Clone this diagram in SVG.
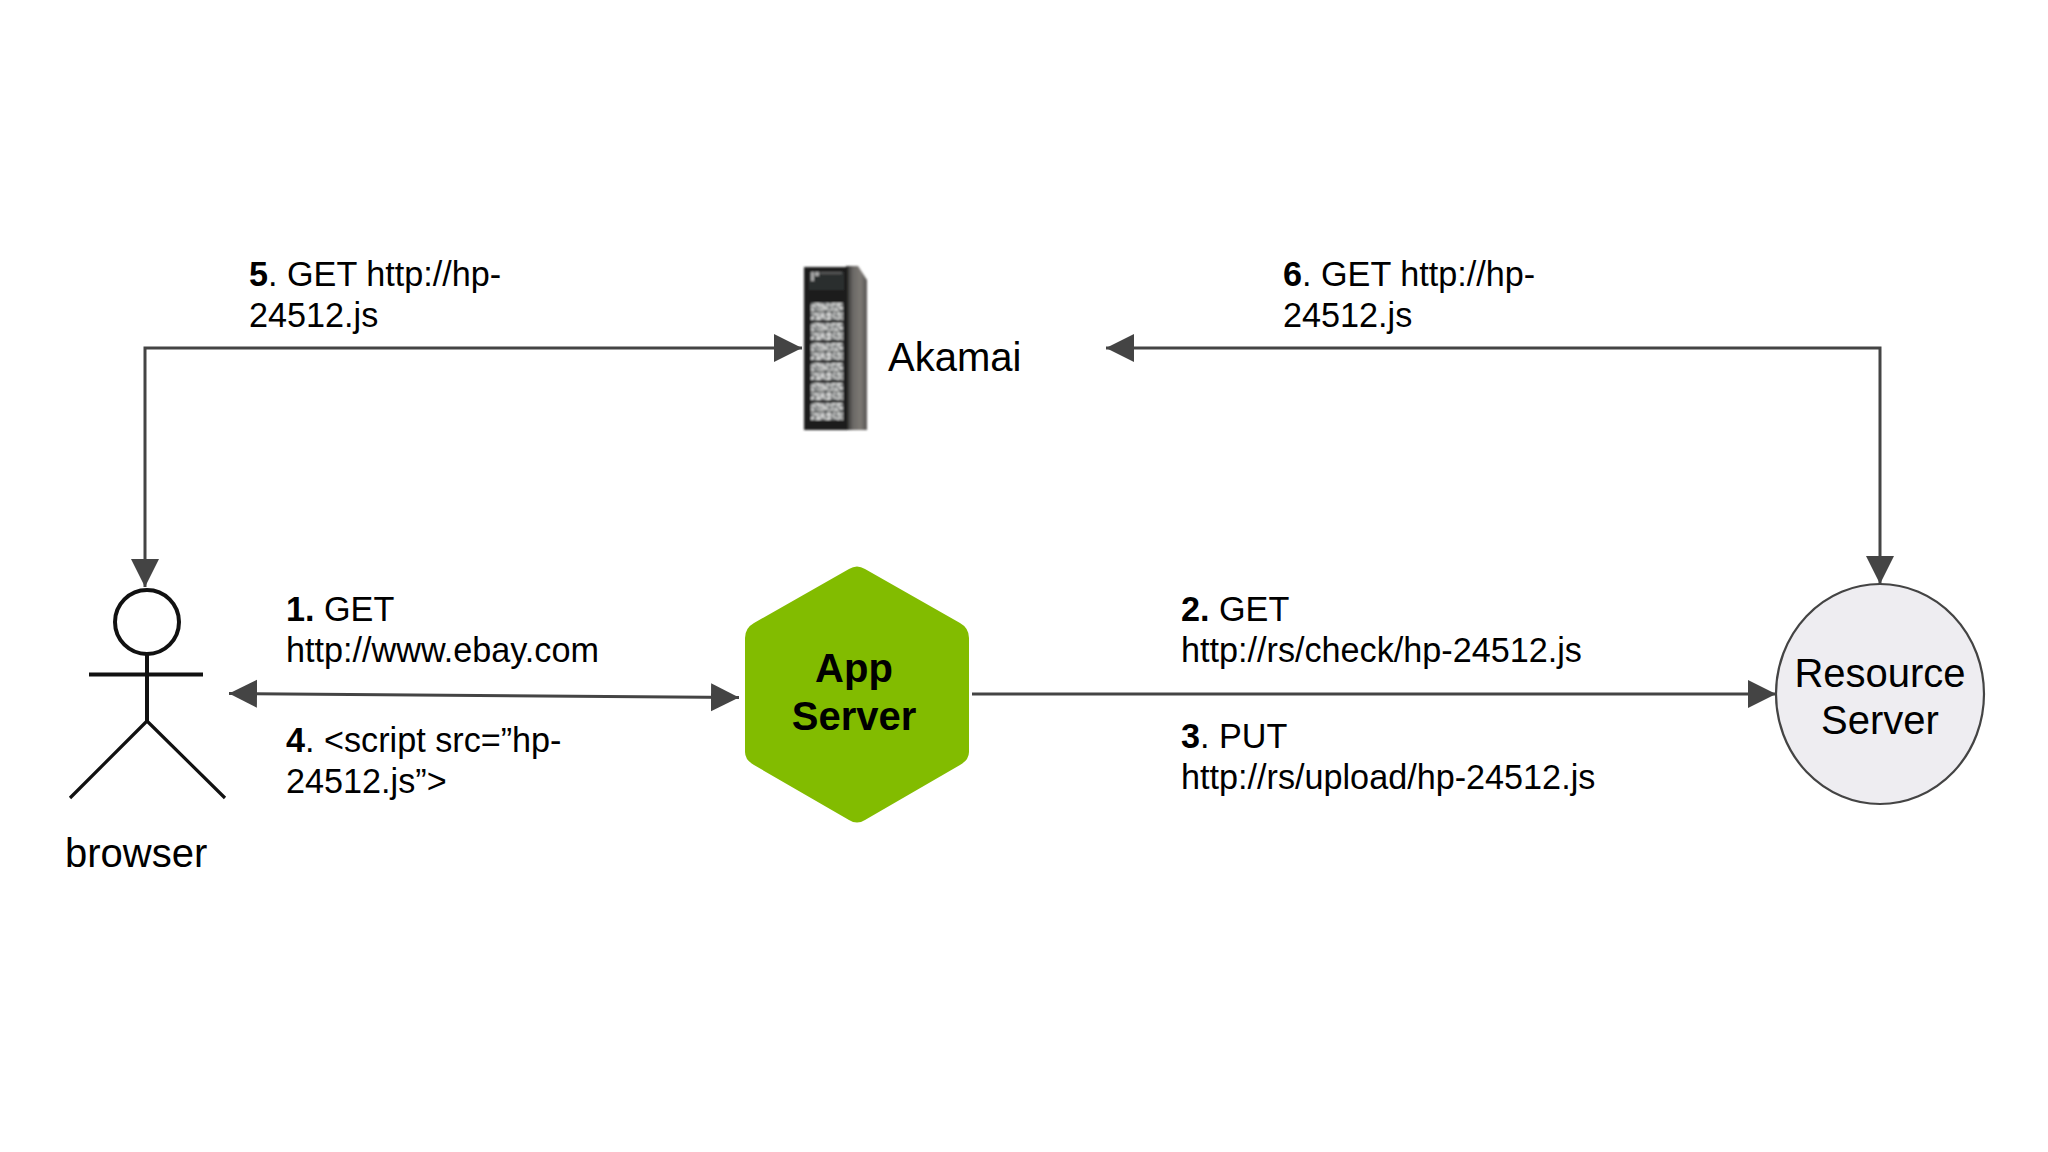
<svg xmlns="http://www.w3.org/2000/svg" width="2048" height="1152" viewBox="0 0 2048 1152">
<style>
text{font-family:"Liberation Sans",Arial,sans-serif;fill:#000}
.l{font-size:34.2px}
.n{font-size:40px}
.b{font-weight:bold}
.c{text-anchor:middle}
.line{fill:none;stroke:#444;stroke-width:3}
.fig{fill:none;stroke:#111;stroke-width:4}
.leg{fill:none;stroke:#111;stroke-width:3.2}
.slot{fill:#77797a}
.dots{fill:none;stroke:#444545;stroke-width:1.2}
</style>
<defs>
<marker id="ah" markerUnits="userSpaceOnUse" markerWidth="30" markerHeight="30" refX="28" refY="14" orient="auto-start-reverse"><path d="M0 0L28 14L0 28Z" fill="#444"/></marker>
<linearGradient id="side" x1="0" x2="1" y1="0" y2="0"><stop offset="0" stop-color="#2a2a2a"/><stop offset=".35" stop-color="#6d6a67"/><stop offset=".7" stop-color="#7c7874"/><stop offset="1" stop-color="#555351"/></linearGradient>
<filter id="soft" x="-5%" y="-5%" width="110%" height="110%"><feGaussianBlur stdDeviation="1"/></filter>
<filter id="noise" x="0" y="0" width="100%" height="100%"><feTurbulence type="fractalNoise" baseFrequency=".3 .45" numOctaves="2" seed="7"/><feColorMatrix type="matrix" values="0 0 0 0 .72  0 0 0 0 .73  0 0 0 0 .72  3 3 0 0 -2.6"/><feComposite in2="SourceGraphic" operator="over"/></filter>
<g id="panel"><rect x="0" y="0" width="32" height="17" class="slot" filter="url(#noise)"/><path d="M0 8.5H32" class="dots"/></g>
</defs>
<rect width="2048" height="1152" fill="#fff"/>
<g id="connectors">
<path class="line" d="M145 587V348H802" marker-start="url(#ah)" marker-end="url(#ah)"/>
<path class="line" d="M1880 584V348H1106" marker-start="url(#ah)" marker-end="url(#ah)"/>
<path class="line" d="M229 693.5L739 697.5" marker-start="url(#ah)" marker-end="url(#ah)"/>
<path class="line" d="M972 694H1776" marker-end="url(#ah)"/>
</g>
<g id="browser">
<ellipse class="fig" cx="147" cy="622" rx="32" ry="32"/>
<path class="fig" d="M147 654V721M89 674.5H203"/>
<path class="leg" d="M147 721L70 798M147 721L225 798"/>
<text class="n" x="65" y="867">browser</text>
</g>
<g id="akamai">
<g filter="url(#soft)">
<path d="M846 266L858 266L867 280V430H846Z" fill="url(#side)"/>
<rect x="804" y="267" width="44" height="163" fill="#1d1e1e"/>
<rect x="809" y="272" width="35" height="18" fill="#2c2d2d"/>
<rect x="811" y="272" width="3" height="9" fill="#a8a8a8"/>
<rect x="815" y="272" width="4" height="4" fill="#a8a8a8"/>
<rect x="820" y="272" width="22" height="2" fill="#5a5a5a"/>
<use href="#panel" x="811" y="303"/>
<use href="#panel" x="811" y="323"/>
<use href="#panel" x="811" y="343"/>
<use href="#panel" x="811" y="363"/>
<use href="#panel" x="811" y="383"/>
<use href="#panel" x="811" y="403"/>
</g>
<text class="n" x="888" y="371">Akamai</text>
</g>
<g id="app-server">
<path d="M849 569Q857 564 865 569L960 623Q969 628 969 638V752Q969 760 960 765L865 820Q857 825 849 820L754 765Q745 760 745 752V638Q745 628 754 623Z" fill="#82bc00"/>
<text class="n b c" x="854" y="682">App</text>
<text class="n b c" x="854" y="730">Server</text>
</g>
<g id="resource-server">
<ellipse cx="1880" cy="694" rx="104" ry="110" fill="#eeedf1" stroke="#444" stroke-width="2.2"/>
<text class="n c" x="1880" y="687">Resource</text>
<text class="n c" x="1880" y="734">Server</text>
</g>
<g id="labels">
<text class="l" x="249" y="286"><tspan class="b">5</tspan>. GET http://hp-</text>
<text class="l" x="249" y="326.5">24512.js</text>
<text class="l" x="1283" y="286"><tspan class="b">6</tspan>. GET http://hp-</text>
<text class="l" x="1283" y="326.5">24512.js</text>
<text class="l" x="286" y="621"><tspan class="b">1.</tspan> GET</text>
<text class="l" x="286" y="662">http://www.ebay.com</text>
<text class="l" x="286" y="752"><tspan class="b">4</tspan>. &lt;script src=”hp-</text>
<text class="l" x="286" y="793">24512.js”&gt;</text>
<text class="l" x="1181" y="621"><tspan class="b">2.</tspan> GET</text>
<text class="l" x="1181" y="662">http://rs/check/hp-24512.js</text>
<text class="l" x="1181" y="748"><tspan class="b">3</tspan>. PUT</text>
<text class="l" x="1181" y="789">http://rs/upload/hp-24512.js</text>
</g>
</svg>
